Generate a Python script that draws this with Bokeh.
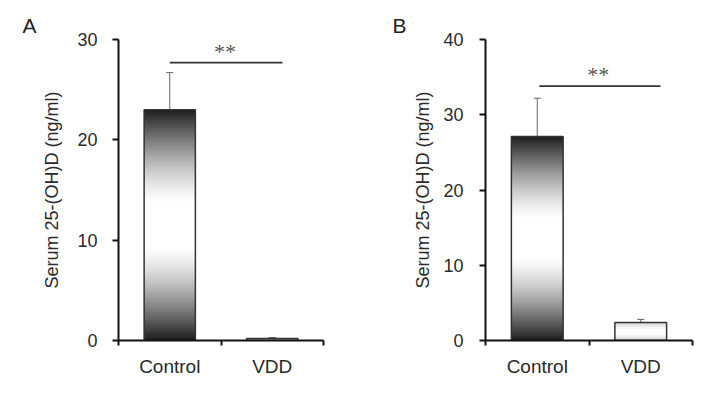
from bokeh.plotting import figure
from bokeh.models import Range1d, FixedTicker, Whisker, ColumnDataSource
from bokeh.layouts import row
from bokeh.embed import file_html
from bokeh.resources import INLINE
from bokeh.core.properties import value

categories = ["Control", "VDD"]
panel_labels = ["A", "B"]
y_title = "Serum 25-(OH)D (ng/ml)"
a_means = [23.0, 0.2]
a_errors = [3.7, 0.1]
b_means = [27.1, 2.4]
b_errors = [5.1, 0.4]
a_ticks = [0, 10, 20, 30]
b_ticks = [0, 10, 20, 30, 40]
sig_text = "**"

FONT = "Liberation Sans"


def gray_profile(t, lo, hi):
    c0 = 0.5
    d = (c0 - t) / c0 if t < c0 else (t - c0) / (1 - c0)
    d = max(0.0, d - 0.18) / 0.82
    L = int(round(lo + (hi - lo) * (1 - d ** 1.4)))
    return "#%02x%02x%02x" % (L, L, L)


def make_panel(means, errors, ticks, letter, width, border_left, border_right,
               letter_offset, sig_line, sig_star, label_standoff, title_standoff):
    ymax = ticks[-1]
    p = figure(width=width, height=387, output_backend="svg", toolbar_location=None,
               x_range=Range1d(0, len(categories)), y_range=Range1d(0, ymax),
               min_border_left=border_left, min_border_right=border_right,
               min_border_top=39, min_border_bottom=47)
    p.outline_line_color = None
    p.background_fill_color = "white"
    p.border_fill_color = "white"
    p.xgrid.visible = False
    p.ygrid.visible = False

    p.title.text = letter
    p.title.text_font = FONT
    p.title.text_font_size = "21px"
    p.title.text_font_style = "normal"
    p.title.text_color = "#222222"
    p.title.align = "left"
    p.title.offset = letter_offset
    p.title.standoff = 6

    # gradient bars built from stacked slices
    n = 90
    l, r, b, t, c = [], [], [], [], []
    for i, m in enumerate(means):
        lo, hi = (28, 255) if i == 0 else (200, 255)
        for k in range(n):
            frac = (k + 0.5) / n
            l.append(i + 0.25)
            r.append(i + 0.75)
            b.append(m * k / n)
            t.append(min(m, m * (k + 1.8) / n))
            c.append(gray_profile(frac, lo, hi))
    p.quad(left=l, right=r, bottom=b, top=t, fill_color=c, line_color=None)
    centers = [i + 0.5 for i in range(len(categories))]
    p.quad(left=[x - 0.25 for x in centers], right=[x + 0.25 for x in centers],
           bottom=[0] * len(means), top=means, fill_alpha=0,
           line_color="#333333", line_width=1.5)

    src = ColumnDataSource(dict(x=centers, lower=means,
                                upper=[m + e for m, e in zip(means, errors)]))
    w = Whisker(base="x", lower="lower", upper="upper", source=src,
                line_color="#666666", line_width=1, lower_head=None)
    w.upper_head.size = 7
    w.upper_head.line_color = "#666666"
    w.upper_head.line_width = 1
    p.add_layout(w)

    # significance annotation
    p.line(x=[sig_line[0], sig_line[1]], y=[sig_line[2], sig_line[2]],
           line_color="#333333", line_width=1.8)
    p.text(x=[sig_star[0]], y=[sig_star[1]], text=[sig_text], text_align="center",
           text_baseline="middle", text_font=value("Liberation Serif"),
           text_font_size="22px", text_color="#555555")

    # axes
    xa = p.xaxis[0]
    xa.ticker = FixedTicker(ticks=centers, minor_ticks=list(range(len(categories) + 1)))
    xa.major_label_overrides = {c_: n_ for c_, n_ in zip(centers, categories)}
    xa.major_tick_out = 0
    xa.major_tick_in = 0
    xa.minor_tick_out = 5
    xa.minor_tick_in = 0
    xa.minor_tick_line_width = 2
    xa.minor_tick_line_color = "#111111"
    xa.axis_line_width = 2
    xa.axis_line_color = "#111111"
    xa.major_label_text_font = FONT
    xa.major_label_text_font_size = "19px"
    xa.major_label_text_color = "#2a2a2a"
    xa.major_label_standoff = 10

    ya = p.yaxis[0]
    ya.ticker = FixedTicker(ticks=ticks, minor_ticks=[])
    ya.major_tick_out = 6
    ya.major_tick_in = 0
    ya.major_tick_line_width = 2
    ya.major_tick_line_color = "#111111"
    ya.axis_line_width = 2
    ya.axis_line_color = "#111111"
    ya.major_label_text_font = FONT
    ya.major_label_text_font_size = "18px"
    ya.major_label_text_color = "#2a2a2a"
    ya.major_label_standoff = label_standoff
    ya.axis_label = y_title
    ya.axis_label_text_font = FONT
    ya.axis_label_text_font_size = "18px"
    ya.axis_label_text_font_style = "normal"
    ya.axis_label_text_color = "#2a2a2a"
    ya.axis_label_standoff = title_standoff
    return p


pA = make_panel(a_means, a_errors, a_ticks, panel_labels[0], 359, 118, 36,
                -96, (0.5, 1.6, 27.7), (1.04, 28.8), 15, 12)
pB = make_panel(b_means, b_errors, b_ticks, panel_labels[1], 345, 126, 12,
                -93, (0.52, 1.69, 33.8), (1.09, 35.4), 16, 7)

layout = row(pA, pB, spacing=0)
open("out.html", "w").write(file_html(layout, INLINE))
